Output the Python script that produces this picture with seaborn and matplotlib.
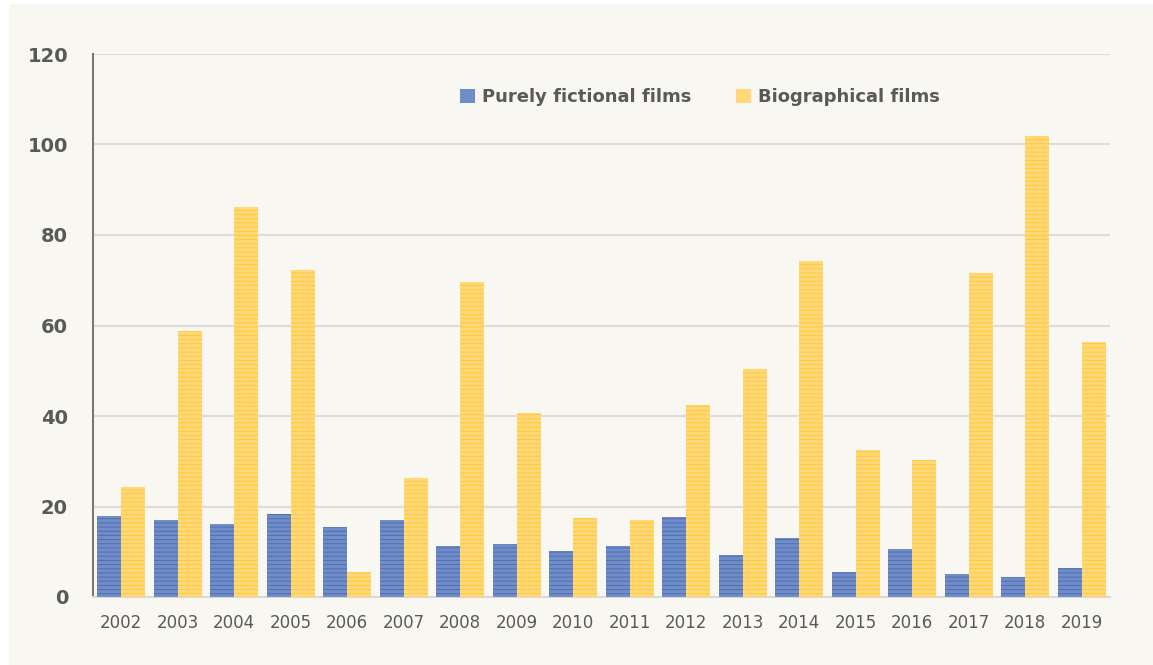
#Grafico de barras: peliculas de ficcion vs biograficas por anio

import pandas as pd
import matplotlib.pyplot as plt
import seaborn as sns
from matplotlib.patches import Rectangle

#datos
years = ['2002', '2003', '2004', '2005', '2006', '2007', '2008', '2009', '2010',
         '2011', '2012', '2013', '2014', '2015', '2016', '2017', '2018', '2019']
fictional = [17.9, 17.0, 16.1, 18.3, 15.5, 17.0, 11.3, 11.7, 10.2,
             11.3, 17.7, 9.3, 13.0, 5.5, 10.6, 5.1, 4.4, 6.4]
biographical = [24.3, 58.8, 86.2, 72.3, 5.5, 26.3, 69.6, 40.7, 17.5,
                17.0, 42.4, 50.4, 74.3, 32.5, 30.3, 71.6, 101.9, 56.4]
series_names = ['Purely fictional films', 'Biographical films']

bg = '#f8f7f1'
face_colors = ['#708dc8', '#ffd87a']
hatch_colors = ['#4f6eb4', '#ffc935']
text_color = '#595959'

df = pd.DataFrame({
    'Year': years * 2,
    'Value': fictional + biographical,
    'Serie': [series_names[0]] * len(years) + [series_names[1]] * len(years),
})

sns.set_style('white')
plt.rcParams['font.family'] = ['DejaVu Sans']
plt.rcParams['hatch.linewidth'] = 0.7

fig = plt.figure(figsize=(11.53, 6.65), dpi=100, facecolor=bg)
ax = fig.add_axes([93 / 1153, 68 / 665, 1017 / 1153, 543 / 665])
ax.set_facecolor(bg)

#franja blanca del borde de la captura
fig.patches.append(Rectangle((0, 0), 9 / 1153, 1, transform=fig.transFigure,
                             facecolor='white', edgecolor='none', zorder=-1))
fig.patches.append(Rectangle((0, 1 - 4 / 665), 1, 4 / 665, transform=fig.transFigure,
                             facecolor='white', edgecolor='none', zorder=-1))

sns.barplot(
    data=df, x='Year', y='Value', hue='Serie',
    palette=face_colors, saturation=1, width=0.85, ax=ax, zorder=3
)

#rayado horizontal de las barras
for container, hc in zip(ax.containers, hatch_colors):
    for bar in container:
        bar.set_hatch('----')
        bar.set_edgecolor(hc)
        bar.set_linewidth(0)

ax.set_ylim(0, 120)
ax.set_xlim(-0.5, len(years) - 0.5)
ax.set_yticks(range(0, 121, 20))
ax.yaxis.grid(True, color='#dcdcdc', linewidth=1.5, zorder=0)
ax.set_axisbelow(True)

for side in ['top', 'right']:
    ax.spines[side].set_visible(False)
ax.spines['left'].set_color('#7d786c')
ax.spines['left'].set_linewidth(1.5)
ax.spines['bottom'].set_color('#d9d9d9')
ax.spines['bottom'].set_linewidth(1.5)

ax.set_xlabel('')
ax.set_ylabel('')
ax.tick_params(axis='y', length=0, pad=18, labelsize=14, labelcolor=text_color)
ax.tick_params(axis='x', length=0, pad=12, labelsize=12, labelcolor=text_color)
for lbl in ax.get_yticklabels():
    lbl.set_fontweight('bold')

leg = ax.legend(
    loc='center', bbox_to_anchor=(700 / 1153, 1 - 97 / 665),
    bbox_transform=fig.transFigure, ncol=2, frameon=False,
    prop={'weight': 'bold', 'size': 13}, handlelength=0.8, handleheight=0.8,
    handletextpad=0.4, columnspacing=2.5
)
for t in leg.get_texts():
    t.set_color(text_color)
for h in leg.legend_handles:
    h.set_hatch(None)
    h.set_linewidth(0)

plt.savefig('out.png', dpi=100, facecolor=bg)
